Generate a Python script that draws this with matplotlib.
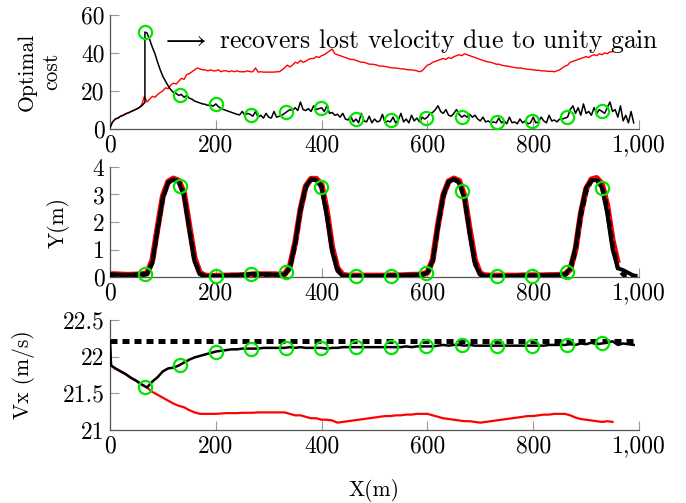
import numpy as np
import matplotlib
matplotlib.use("Agg")
import matplotlib.pyplot as plt
from matplotlib.ticker import FuncFormatter, FixedLocator

plt.rcParams['font.family'] = ['cmr10', 'DejaVu Serif']
plt.rcParams['mathtext.fontset'] = 'cm'
plt.rcParams['axes.unicode_minus'] = False

# ---------------- data ----------------
# Panel 1: optimal cost
cost_black_x = np.r_[np.arange(0, 66, 5), 66, 66, np.arange(70, 995, 5)]
cost_black = [
    0.5, 3.5, 5, 5.5, 6.5, 7, 7.8, 8.3, 9, 9.6, 10.3, 11, 12, 13.5,
    13.8, 51,
    50.5, 47, 43, 39.5, 35, 31, 27.5, 25, 22.5, 20.5,
    19, 18.5, 17.5, 18, 16.5, 17.5, 16, 15.5, 14.5, 14,
    13.5, 13, 12.8, 12.2, 12.5, 11.8, 13, 11.5, 10.5, 10,
    9.5, 9, 8.5, 8, 7.5, 7.2, 9, 7, 8, 7.5,
    6.5, 9, 6, 7, 5.5, 8, 6, 5.5, 9, 6,
    6.5, 7, 8, 9, 10, 9.5, 11, 9.5, 14, 10,
    9.5, 10.5, 9, 12, 10, 10.5, 11, 9, 12, 8,
    8.5, 7, 7.5, 6, 8, 5, 4.5, 6.5, 3.5, 5,
    3, 8, 4, 3.5, 6.5, 3, 5, 3.5, 4, 7.5,
    3, 4, 3.5, 6, 3, 4.5, 8, 3.5, 5, 3,
    7, 4, 5.5, 3.5, 6, 5, 6, 8, 8.5, 10,
    12, 9, 8, 10, 7, 6.5, 8, 10, 7.5, 6,
    7, 6, 7.5, 6, 7, 5, 4, 6, 3.5, 4,
    3, 3.5, 3, 5.5, 3, 4, 2.5, 6, 3, 3.5,
    2.5, 5, 3, 4, 2.5, 3, 6, 3, 3.5, 6,
    4, 3, 7, 4, 4.5, 3.5, 5, 5, 5.5, 6,
    10, 12, 8, 11, 7, 13, 8, 9, 7, 11,
    8, 10, 9, 8, 11, 14, 9, 10, 6, 12,
    4, 7, 3, 9, 3,
]
cost_red_x = np.arange(0, 951, 5)
cost_red = [
    0.5, 3.5, 5, 5.5, 6.5, 7, 7.8, 8.3, 9, 9.6,
    10.3, 11, 12.5, 17, 14, 15.5, 17, 16.5, 18, 19,
    20, 21.5, 21, 23, 24, 23.5, 25, 26.5, 26, 28.5,
    29, 30, 31, 32, 31.5, 31, 31, 30.5, 31, 30.5,
    30.5, 31, 30, 30.5, 30.5, 30, 30.5, 30, 30.5, 30,
    30, 30, 30.5, 30, 30, 32, 29.8, 30, 29.8, 29.8,
    29.8, 29.8, 29.8, 30, 30, 31, 32, 33.5, 32.5, 33.5,
    35, 34.5, 36, 35, 35.5, 36.5, 37, 37, 38, 37.5,
    38.5, 39, 40, 41, 42, 39.5, 39, 38.5, 38, 37.5,
    37, 36.5, 36.5, 36, 35.5, 35, 35, 34.5, 34, 34,
    33.8, 33.5, 33, 33, 32.8, 32.5, 32.2, 32, 32, 31.8,
    31.5, 31.5, 31.2, 31, 31, 30.8, 30.5, 30, 30.5, 32,
    33.5, 34, 35, 35.5, 36, 36.5, 37, 36.5, 37.5, 37,
    38, 38.5, 39, 38.5, 39.5, 39, 38.5, 38, 37.5, 37,
    36.5, 36, 35.5, 35.2, 35, 34.5, 34, 34, 33.5, 33.2,
    33, 32.8, 32.5, 32.2, 32, 32, 31.8, 31.5, 31.3, 31.2,
    31, 30.8, 30.8, 30.5, 30.5, 30.3, 30.2, 30.2, 30, 30.5,
    31, 32, 33, 33.5, 35, 35.5, 36, 36.5, 37, 37.5,
    38, 37.5, 38.5, 39, 38.5, 39.5, 39, 40, 39.5, 40.5,
    40.5,
]

# Panel 2: lateral position Y(m)
y_ref_x = np.arange(0, 1001, 10)
y_ref = [
    0.08, 0.08, 0.07, 0.07, 0.07, 0.08, 0.08, 0.1, 0.5, 1.7,
    2.85, 3.42, 3.56, 3.48, 3.0, 1.75, 0.6, 0.12, 0.04, 0.04,
    0.04, 0.04, 0.05, 0.05, 0.05, 0.05, 0.06, 0.06, 0.07, 0.08,
    0.08, 0.08, 0.07, 0.08, 0.3, 1.15, 2.4, 3.25, 3.54, 3.54,
    3.3, 2.3, 1.0, 0.28, 0.06, 0.04, 0.04, 0.04, 0.04, 0.04,
    0.04, 0.04, 0.04, 0.05, 0.05, 0.05, 0.05, 0.06, 0.06, 0.08,
    0.12, 0.55, 1.8, 2.9, 3.44, 3.56, 3.46, 2.9, 1.65, 0.52,
    0.1, 0.05, 0.04, 0.04, 0.04, 0.04, 0.04, 0.04, 0.05, 0.05,
    0.05, 0.05, 0.05, 0.05, 0.06, 0.06, 0.08, 0.22, 0.95, 2.2,
    3.1, 3.5, 3.55, 3.32, 2.5, 1.2, 0.32, 0.08, 0.05, 0.04,
    0.04,
]
y_black_x = np.arange(0, 991, 10)
y_black = [
    0.1, 0.09, 0.08, 0.08, 0.08, 0.09, 0.1, 0.12, 0.55, 1.75,
    2.9, 3.44, 3.55, 3.46, 2.95, 1.7, 0.55, 0.1, 0.03, 0.03,
    0.03, 0.04, 0.05, 0.06, 0.07, 0.08, 0.1, 0.12, 0.12, 0.1,
    0.1, 0.09, 0.08, 0.09, 0.35, 1.25, 2.5, 3.3, 3.55, 3.52,
    3.25, 2.2, 0.92, 0.22, 0.04, 0.03, 0.03, 0.03, 0.04, 0.04,
    0.04, 0.04, 0.05, 0.05, 0.06, 0.06, 0.07, 0.08, 0.08, 0.1,
    0.15, 0.6, 1.9, 3.0, 3.47, 3.55, 3.42, 2.85, 1.55, 0.45,
    0.08, 0.04, 0.03, 0.03, 0.04, 0.04, 0.04, 0.05, 0.05, 0.05,
    0.05, 0.05, 0.06, 0.06, 0.07, 0.08, 0.1, 0.3, 1.1, 2.4,
    3.25, 3.52, 3.52, 3.25, 2.3, 1.0, 0.32, 0.25, 0.15, 0.05,
]
y_red_x = np.arange(0, 961, 10)
y_red = [
    0.1, 0.1, 0.09, 0.08, 0.08, 0.09, 0.1, 0.14, 0.6, 1.8,
    2.95, 3.47, 3.58, 3.5, 3.05, 1.85, 0.68, 0.15, 0.05, 0.04,
    0.04, 0.05, 0.05, 0.06, 0.06, 0.07, 0.08, 0.09, 0.1, 0.1,
    0.1, 0.1, 0.09, 0.1, 0.38, 1.25, 2.45, 3.3, 3.57, 3.57,
    3.35, 2.4, 1.08, 0.32, 0.08, 0.05, 0.05, 0.05, 0.05, 0.05,
    0.05, 0.05, 0.05, 0.06, 0.06, 0.06, 0.07, 0.08, 0.08, 0.1,
    0.16, 0.62, 1.9, 2.98, 3.48, 3.58, 3.5, 2.95, 1.72, 0.6,
    0.12, 0.06, 0.05, 0.05, 0.05, 0.05, 0.05, 0.05, 0.06, 0.06,
    0.06, 0.06, 0.06, 0.07, 0.07, 0.08, 0.1, 0.27, 1.0, 2.3,
    3.2, 3.55, 3.6, 3.38, 2.6, 1.35, 0.5,
]

# Panel 3: longitudinal velocity Vx (m/s)
vx_ref_x = [0, 990]
vx_ref = [22.22, 22.22]
vx_black_x = np.r_[0, 2, np.arange(10, 991, 10)]
vx_black = [
    22.2, 21.88,
    21.84, 21.8, 21.76, 21.71, 21.67, 21.62, 21.58, 21.66, 21.72,
    21.8, 21.84, 21.85, 21.88, 21.92, 21.96, 21.99, 22.01, 22.03, 22.05,
    22.07, 22.08, 22.09, 22.1, 22.1, 22.11, 22.11, 22.11, 22.11, 22.12,
    22.12, 22.12, 22.12, 22.12, 22.13, 22.12, 22.13, 22.12, 22.12, 22.12,
    22.12, 22.11, 22.12, 22.12, 22.13, 22.13, 22.13, 22.13, 22.13, 22.13,
    22.13, 22.13, 22.13, 22.13, 22.13, 22.13, 22.14, 22.13, 22.14, 22.14,
    22.14, 22.14, 22.15, 22.16, 22.15, 22.16, 22.16, 22.15, 22.16, 22.15,
    22.15, 22.15, 22.15, 22.15, 22.15, 22.15, 22.15, 22.15, 22.15, 22.15,
    22.15, 22.15, 22.15, 22.16, 22.16, 22.16, 22.16, 22.17, 22.16, 22.18,
    22.17, 22.19, 22.17, 22.18, 22.19, 22.21, 22.16, 22.18, 22.17, 22.16,
]
vx_red_x = np.r_[0, 2, np.arange(10, 951, 10)]
vx_red = [
    22.2, 21.88,
    21.84, 21.8, 21.76, 21.71, 21.67, 21.62, 21.58, 21.52, 21.48,
    21.44, 21.4, 21.36, 21.33, 21.31, 21.27, 21.24, 21.22, 21.22, 21.22,
    21.22, 21.225, 21.23, 21.23, 21.23, 21.235, 21.235, 21.235, 21.24, 21.24,
    21.24, 21.24, 21.24, 21.24, 21.22, 21.2, 21.2, 21.18, 21.16, 21.16,
    21.14, 21.14, 21.13, 21.1, 21.11, 21.12, 21.13, 21.14, 21.15, 21.16,
    21.17, 21.18, 21.19, 21.19, 21.2, 21.2, 21.21, 21.21, 21.22, 21.22,
    21.22, 21.2, 21.18, 21.16, 21.15, 21.14, 21.13, 21.12, 21.12, 21.11,
    21.1, 21.11, 21.12, 21.13, 21.14, 21.15, 21.16, 21.17, 21.18, 21.19,
    21.19, 21.2, 21.21, 21.21, 21.22, 21.22, 21.22, 21.2, 21.17, 21.15,
    21.14, 21.13, 21.12, 21.11, 21.12, 21.11,
]

# positions of the green circle markers along X(m)
marker_x = [67, 133, 200, 266, 333, 399, 465, 532, 598, 665, 731, 797, 864, 930]

x_ticks = [0, 200, 400, 600, 800, 1000]
annotation = r'$\longrightarrow$ recovers lost velocity due to unity gain'

# ---------------- figure ----------------
W, H = 686, 503
fig = plt.figure(figsize=(W / 100, H / 100), dpi=100)

L = 110 / W
Wd = (639 - 110) / W
def ax_at(top, bottom):
    return fig.add_axes([L, 1 - bottom / H, Wd, (bottom - top) / H])

ax1 = ax_at(15, 128.5)
ax2 = ax_at(167, 277)
ax3 = ax_at(320, 430)

GREEN = '#00e600'
TICK_FS = 17
LABEL_FS = 15.5

def style(ax):
    for s in ['top', 'right']:
        ax.spines[s].set_visible(False)
    for s in ['left', 'bottom']:
        ax.spines[s].set_color('#555555')
        ax.spines[s].set_linewidth(0.9)
    ax.tick_params(direction='in', length=6.5, width=0.8, color='#999999',
                   labelsize=TICK_FS, pad=4)
    ax.set_xlim(0, 1000)
    ax.xaxis.set_major_locator(FixedLocator(x_ticks))
    ax.xaxis.set_major_formatter(FuncFormatter(lambda v, p: f"{int(v):,}"))

# Panel 1
ax1.plot(cost_red_x, cost_red, color='red', lw=1.0, zorder=2)
ax1.plot(cost_black_x, cost_black, color='black', lw=1.1, zorder=3)
ax1.plot(marker_x, np.interp(marker_x, cost_black_x, cost_black), 'o',
         ms=9.5, mfc='none', mec=GREEN, mew=1.6, zorder=5, clip_on=False)
ax1.set_ylim(0, 60)
ax1.set_yticks([0, 20, 40, 60])
ax1.text(96, 46, annotation, fontsize=18.5, va='center', ha='left', clip_on=False)
style(ax1)
ax1.set_ylabel('Optimal\ncost', fontsize=LABEL_FS, linespacing=1.3)
ax1.yaxis.set_label_coords(-0.092, 0.5)

# Panel 2
ax2.plot(y_red_x, y_red, color='red', lw=4.3, zorder=2, solid_capstyle='butt')
ax2.plot(y_ref_x, y_ref, color='black', lw=3.0, ls=(0, (1.6, 1.0)), zorder=3)
ax2.plot(y_black_x, y_black, color='black', lw=2.8, zorder=4)
ax2.plot(marker_x, np.interp(marker_x, y_black_x, y_black), 'o',
         ms=9.5, mfc='none', mec=GREEN, mew=1.6, zorder=5, clip_on=False)
ax2.set_ylim(0, 4)
ax2.set_yticks([0, 1, 2, 3, 4])
style(ax2)
ax2.set_ylabel('Y(m)', fontsize=LABEL_FS)
ax2.yaxis.set_label_coords(-0.076, 0.5)

# Panel 3
ax3.plot(vx_red_x, vx_red, color='red', lw=1.6, zorder=2)
ax3.plot(vx_ref_x, vx_ref, color='black', lw=3.6, ls=(0, (1.4, 1.0)), zorder=3)
ax3.plot(vx_black_x, vx_black, color='black', lw=1.8, zorder=4)
ax3.plot(marker_x, np.interp(marker_x, vx_black_x, vx_black), 'o',
         ms=9.5, mfc='none', mec=GREEN, mew=1.6, zorder=5, clip_on=False)
ax3.set_ylim(21, 22.5)
ax3.set_yticks([21, 21.5, 22, 22.5])
ax3.yaxis.set_major_formatter(FuncFormatter(lambda v, p: f"{v:g}"))
style(ax3)
ax3.set_ylabel('Vx (m/s)', fontsize=LABEL_FS)
ax3.yaxis.set_label_coords(-0.142, 0.5)

fig.text(374 / W, 1 - 490 / H, 'X(m)', fontsize=LABEL_FS, ha='center', va='center')

fig.savefig('out.png', dpi=100)
